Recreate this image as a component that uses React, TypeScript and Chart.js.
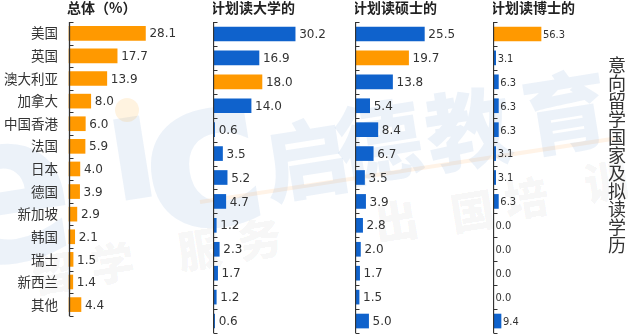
import React, { useEffect, useRef } from "react";
import { Chart, registerables } from "chart.js";

Chart.register(...registerables);

const categories = ["美国", "英国", "澳大利亚", "加拿大", "中国香港", "法国", "日本", "德国", "新加坡", "韩国", "瑞士", "新西兰", "其他"];
const overall = [28.1, 17.7, 13.9, 8.0, 6.0, 5.9, 4.0, 3.9, 2.9, 2.1, 1.5, 1.4, 4.4];
const bachelor = [30.2, 16.9, 18.0, 14.0, 0.6, 3.5, 5.2, 4.7, 1.2, 2.3, 1.7, 1.2, 0.6];
const master = [25.5, 19.7, 13.8, 5.4, 8.4, 6.7, 3.5, 3.9, 2.8, 2.0, 1.7, 1.5, 5.0];
const doctor = [56.3, 3.1, 6.3, 6.3, 6.3, 3.1, 3.1, 6.3, 0.0, 0.0, 0.0, 0.0, 9.4];
const titles = ["总体（%）", "计划读大学的", "计划读硕士的", "计划读博士的"];
const sideTitle = "意向留学国家及拟读学历";

const ORANGE = "#FF9900";
const BLUE = "#0F62CC";
const CJK = "'Noto Sans CJK SC', 'Noto Sans', sans-serif";
const WM_BLUE = "rgba(30,100,190,0.085)";
const WM_GRAY = "rgba(0,0,0,0.055)";

type PanelProps = {
  title: string;
  values: number[];
  highlight: number[];
  left: number;
  areaW: number;
  pxPerUnit: number;
  showCats: boolean;
  labelFont: string;
  labelGap: number;
};

const panelPlugin = {
  id: "panelDecor",
  afterDatasetsDraw(chart: any, _args: any, opts: any) {
    const ctx = chart.ctx;
    const area = chart.chartArea;
    const x = chart.scales.x;
    const y = chart.scales.y;
    const x0 = Math.round(x.getPixelForValue(0)) + 0.5;
    ctx.save();
    ctx.strokeStyle = "#333";
    ctx.lineWidth = 1.3;
    ctx.beginPath();
    ctx.moveTo(x0, area.top);
    ctx.lineTo(x0, area.bottom);
    ctx.stroke();
    ctx.lineWidth = 1;
    for (let i = 0; i <= categories.length; i++) {
      const py = Math.round(y.getPixelForValue(i - 0.5)) + 0.5;
      ctx.beginPath();
      ctx.moveTo(x0, py);
      ctx.lineTo(x0 + 4, py);
      ctx.stroke();
    }
    const meta = chart.getDatasetMeta(0);
    const data = chart.data.datasets[0].data;
    ctx.fillStyle = "#333";
    ctx.font = opts.labelFont;
    ctx.textAlign = "left";
    ctx.textBaseline = "middle";
    meta.data.forEach((bar: any, i: number) => {
      ctx.fillText(Number(data[i]).toFixed(1), Math.max(bar.x, x0) + opts.labelGap, bar.y + 1);
    });
    ctx.fillStyle = "#222";
    ctx.font = "bold 14px " + CJK;
    ctx.textBaseline = "middle";
    ctx.fillText(opts.title, area.left - 2, 8);
    ctx.restore();
  },
};

function Panel(p: PanelProps) {
  const ref = useRef<HTMLCanvasElement | null>(null);
  const catW = p.showCats ? 69 : 0;
  const width = catW + p.areaW;
  useEffect(() => {
    if (!ref.current) return;
    const chart = new Chart(ref.current, {
      type: "bar",
      data: {
        labels: categories,
        datasets: [
          {
            data: p.values,
            backgroundColor: p.values.map((_, i) => (p.highlight.includes(i) ? ORANGE : BLUE)),
            barThickness: 14,
            clip: false as any,
          },
        ],
      },
      options: {
        indexAxis: "y",
        responsive: false,
        animation: false,
        layout: { padding: { top: 22, bottom: 2, left: 0, right: 0 } },
        plugins: {
          legend: { display: false },
          tooltip: { enabled: false },
          title: { display: false },
          panelDecor: { title: p.title, labelFont: p.labelFont, labelGap: p.labelGap },
        } as any,
        scales: {
          x: { display: false, min: 0, max: p.areaW / p.pxPerUnit },
          y: {
            display: p.showCats,
            grid: { display: false, drawTicks: false },
            border: { display: false },
            ticks: { color: "#333", font: { size: 13.5, family: CJK }, padding: 11 },
            afterFit: (axis: any) => {
              axis.width = catW;
            },
          },
        },
      },
      plugins: [panelPlugin],
    });
    return () => chart.destroy();
  }, []);
  return (
    <canvas
      ref={ref}
      width={width}
      height={335}
      style={{ position: "absolute", left: p.left - catW, top: 0, width, height: 335 }}
    />
  );
}

function Glyph(props: { ch: string; left: number; top: number; size: number; color: string; latin?: boolean }) {
  return (
    <span
      style={{
        position: "absolute",
        left: props.left,
        top: props.top,
        fontSize: props.size,
        lineHeight: props.size + "px",
        fontFamily: props.latin ? "'DejaVu Sans', sans-serif" : CJK,
        fontWeight: 900,
        color: props.color,
        transform: "rotate(-9deg)",
        whiteSpace: "nowrap",
      }}
    >
      {props.ch}
    </span>
  );
}

function Watermark() {
  return (
    <div style={{ position: "absolute", left: 0, top: 0, width: 628, height: 335 }}>
      <Glyph ch="e" left={-70} top={85} size={210} color={WM_BLUE} latin />
      <Glyph ch="ı" left={105} top={72} size={150} color={WM_BLUE} latin />
      <Glyph ch="c" left={140} top={50} size={210} color={WM_BLUE} latin />
      <div style={{ position: "absolute", left: 115, top: 98, width: 24, height: 24, borderRadius: 12, background: "rgba(255,153,0,0.12)" }} />
      <div
        style={{
          position: "absolute",
          left: 200,
          top: 200,
          width: 420,
          height: 4,
          background: "rgba(255,160,60,0.12)",
          transform: "rotate(-8.7deg)",
          transformOrigin: "0 50%",
        }}
      />
      <Glyph ch="启" left={262} top={112} size={86} color={WM_BLUE} />
      <Glyph ch="德" left={335} top={95} size={86} color={WM_BLUE} />
      <Glyph ch="教" left={425} top={82} size={86} color={WM_BLUE} />
      <Glyph ch="育" left={522} top={65} size={86} color={WM_BLUE} />
      <Glyph ch="留" left={30} top={249} size={44} color={WM_GRAY} />
      <Glyph ch="学" left={90} top={239} size={44} color={WM_GRAY} />
      <Glyph ch="服" left={177} top={225} size={44} color={WM_GRAY} />
      <Glyph ch="务" left={237} top={215} size={44} color={WM_GRAY} />
      <Glyph ch="出" left={374} top={197} size={44} color={WM_GRAY} />
      <Glyph ch="国" left={450} top={187} size={44} color={WM_GRAY} />
      <Glyph ch="培" left={504} top={174} size={44} color={WM_GRAY} />
      <Glyph ch="训" left={584} top={157} size={44} color={WM_GRAY} />
    </div>
  );
}

export default function App() {
  const numFont = "12px 'DejaVu Sans', Verdana, sans-serif";
  const smallFont = "11px 'DejaVu Sans Condensed', 'DejaVu Sans', sans-serif";
  return (
    <div style={{ position: "absolute", left: 0, top: 0, width: 628, height: 335, background: "#fff", overflow: "hidden" }}>
      <Watermark />
      <Panel title={titles[0]} values={overall} highlight={overall.map((_, i) => i)} left={69} areaW={150} pxPerUnit={2.72} showCats={true} labelFont={numFont} labelGap={4} />
      <Panel title={titles[1]} values={bachelor} highlight={[2]} left={213} areaW={140} pxPerUnit={2.72} showCats={false} labelFont={numFont} labelGap={4} />
      <Panel title={titles[2]} values={master} highlight={[1]} left={355} areaW={135} pxPerUnit={2.72} showCats={false} labelFont={numFont} labelGap={4} />
      <Panel title={titles[3]} values={doctor} highlight={[0]} left={493} areaW={100} pxPerUnit={0.853} showCats={false} labelFont={smallFont} labelGap={2} />
      <div
        style={{
          position: "absolute",
          left: 608,
          top: 56,
          fontFamily: CJK,
          fontSize: 18,
          lineHeight: "18px",
          color: "#333",
          writingMode: "vertical-rl",
        }}
      >
        {sideTitle}
      </div>
    </div>
  );
}
